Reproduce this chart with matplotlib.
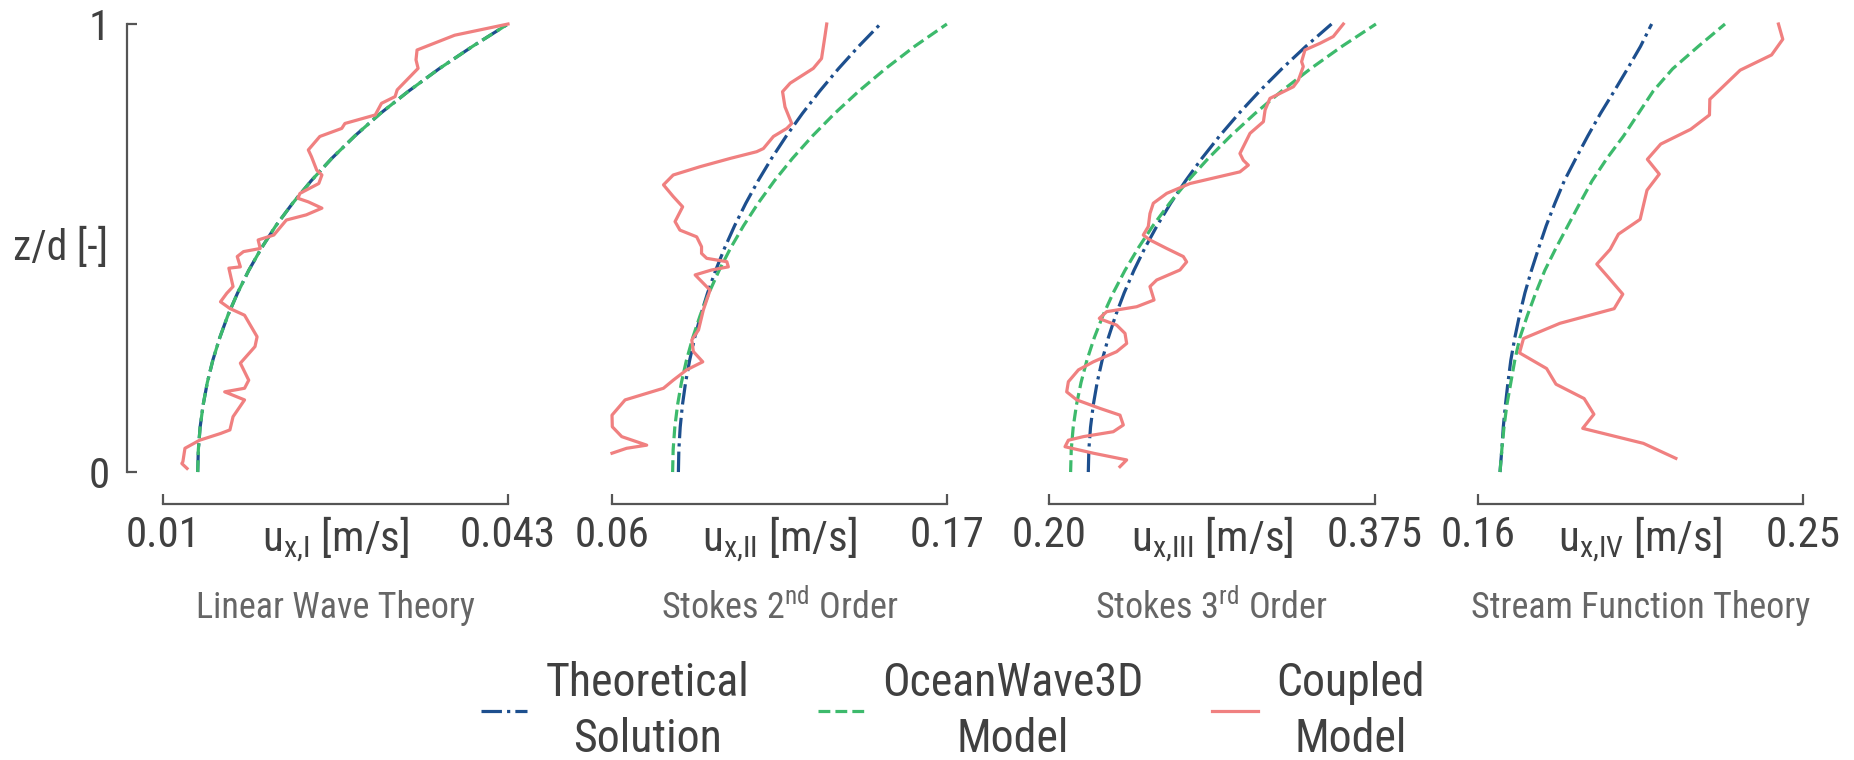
import matplotlib
matplotlib.use('Agg')
import matplotlib.pyplot as plt
from matplotlib import font_manager

# ---------------- fonts ----------------
_names = {f.name for f in font_manager.fontManager.ttflist}
FONT = next((n for n in ['Liberation Sans Narrow', 'Arial Narrow', 'Roboto Condensed',
                         'DejaVu Sans Condensed', 'Liberation Sans'] if n in _names), 'DejaVu Sans')
plt.rcParams['font.family'] = [FONT, 'DejaVu Sans']
plt.rcParams['mathtext.fontset'] = 'custom'
plt.rcParams['mathtext.rm'] = FONT
plt.rcParams['mathtext.default'] = 'regular'

# ---------------- data ----------------
z_grid = [0.00, 0.05, 0.10, 0.15, 0.20, 0.25, 0.30, 0.35, 0.40, 0.45, 0.50,
          0.55, 0.60, 0.65, 0.70, 0.75, 0.80, 0.85, 0.90, 0.95, 1.00]

# Linear wave theory
theory_I = [0.01332, 0.01338, 0.01355, 0.01384, 0.01424, 0.01477, 0.01543, 0.01621, 0.01714, 0.01820, 0.01942,
            0.02080, 0.02240, 0.02417, 0.02614, 0.02834, 0.03077, 0.03348, 0.03640, 0.03960, 0.04300]
ow3d_I = [0.01332, 0.01338, 0.01355, 0.01384, 0.01424, 0.01477, 0.01543, 0.01621, 0.01714, 0.01820, 0.01942,
          0.02080, 0.02240, 0.02417, 0.02614, 0.02834, 0.03077, 0.03348, 0.03640, 0.03960, 0.04300]
z_cpl_I = [1.0, 0.975, 0.942, 0.92, 0.901, 0.853, 0.838, 0.823, 0.797, 0.778, 0.767, 0.749, 0.719, 0.704,
           0.674, 0.663, 0.644, 0.622, 0.611, 0.603, 0.589, 0.574, 0.5625, 0.529, 0.518, 0.499, 0.492, 0.481,
           0.458, 0.455, 0.414, 0.399, 0.380, 0.365, 0.350, 0.302, 0.280, 0.243, 0.205, 0.187, 0.179, 0.161,
           0.1235, 0.094, 0.086, 0.071, 0.053, 0.023, 0.019, 0.008]
cpl_I = [0.0430, 0.0379, 0.0343, 0.0342, 0.0344, 0.0324, 0.0322, 0.0309, 0.0303, 0.0274, 0.0271, 0.0250,
         0.0239, 0.0242, 0.0247, 0.0252, 0.0249, 0.0231, 0.0229, 0.0239, 0.0252, 0.0237, 0.0218, 0.0206,
         0.0191, 0.0193, 0.0177, 0.0171, 0.0174, 0.0163, 0.0167, 0.0161, 0.0155, 0.0164, 0.0178, 0.0190,
         0.0188, 0.0174, 0.0182, 0.0178, 0.0159, 0.0178, 0.0167, 0.0164, 0.0155, 0.0135, 0.0121, 0.0119,
         0.0118, 0.0123]

# Stokes 2nd order
theory_II = [0.0818, 0.08195, 0.08239, 0.08313, 0.08416, 0.08551, 0.08716, 0.08912, 0.09140, 0.09402, 0.09697,
             0.10027, 0.10394, 0.10797, 0.11239, 0.11723, 0.12248, 0.12817, 0.13432, 0.14097, 0.14811]
ow3d_II = [0.0799, 0.08008, 0.08062, 0.08153, 0.08280, 0.08446, 0.08652, 0.08897, 0.09185, 0.09516, 0.09894,
           0.10321, 0.10798, 0.11332, 0.11924, 0.12581, 0.13305, 0.14101, 0.14976, 0.15934, 0.16996]
z_cpl_II = [1.0, 0.972, 0.923, 0.901, 0.868, 0.849, 0.815, 0.778, 0.767, 0.749, 0.722, 0.715, 0.700, 0.6815,
            0.663, 0.641, 0.615, 0.592, 0.559, 0.540, 0.525, 0.503, 0.488, 0.477, 0.4695, 0.458, 0.451, 0.440,
            0.406, 0.362, 0.317, 0.295, 0.269, 0.246, 0.228, 0.205, 0.187, 0.161, 0.127, 0.101, 0.079, 0.060,
            0.053, 0.042]
cpl_II = [0.1305, 0.1299, 0.1288, 0.1261, 0.1185, 0.1160, 0.1168, 0.1190, 0.1174, 0.1130, 0.1097, 0.1075,
          0.0988, 0.0889, 0.0801, 0.0769, 0.0801, 0.0832, 0.0807, 0.0823, 0.0878, 0.0894, 0.0894, 0.0911,
          0.0977, 0.0982, 0.0927, 0.0873, 0.0922, 0.0900, 0.0884, 0.0862, 0.0867, 0.0898, 0.0845, 0.0801,
          0.0769, 0.0643, 0.0600, 0.0601, 0.0632, 0.0714, 0.0648, 0.0600]

# Stokes 3rd order
theory_III = [0.2211, 0.22140, 0.22229, 0.22378, 0.22586, 0.22856, 0.23187, 0.23580, 0.24037, 0.24559, 0.25147,
              0.25804, 0.26531, 0.27331, 0.28204, 0.29155, 0.30186, 0.31299, 0.32498, 0.33785, 0.35164]
ow3d_III = [0.2116, 0.21195, 0.21299, 0.21475, 0.21721, 0.22039, 0.22432, 0.22901, 0.23448, 0.24077, 0.24790,
            0.25583, 0.26472, 0.27458, 0.28548, 0.29743, 0.31051, 0.32477, 0.34032, 0.35721, 0.3755]
z_cpl_III = [1.0, 0.972, 0.957, 0.942, 0.916, 0.905, 0.875, 0.860, 0.834, 0.808, 0.782, 0.756, 0.726, 0.711,
             0.696, 0.685, 0.670, 0.644, 0.622, 0.600, 0.577, 0.548, 0.529, 0.518, 0.499, 0.481, 0.469, 0.451,
             0.4286, 0.414, 0.384, 0.369, 0.358, 0.343, 0.339, 0.328, 0.3095, 0.287, 0.2686, 0.246, 0.228,
             0.2016, 0.179, 0.161, 0.142, 0.127, 0.105, 0.090, 0.079, 0.071, 0.0565, 0.042, 0.027, 0.012]
cpl_III = [0.3580, 0.3526, 0.3455, 0.3374, 0.3356, 0.3365, 0.3339, 0.3312, 0.3186, 0.3160, 0.3151, 0.3079,
           0.3043, 0.3025, 0.3043, 0.3070, 0.3025, 0.2757, 0.2632, 0.2560, 0.2542, 0.2533, 0.2506, 0.2542,
           0.2632, 0.2721, 0.2739, 0.2703, 0.2578, 0.2542, 0.2564, 0.2471, 0.2310, 0.2270, 0.2292, 0.2363,
           0.2408, 0.2417, 0.2363, 0.2238, 0.2158, 0.2104, 0.2095, 0.2149, 0.2274, 0.2381, 0.2399, 0.2345,
           0.2184, 0.2104, 0.2086, 0.2238, 0.2417, 0.2381]

# Stream function theory
theory_IV = [0.1661, 0.1666, 0.1670, 0.1676, 0.1683, 0.1691, 0.1702, 0.1715, 0.1730, 0.1748, 0.1768,
             0.1789, 0.1813, 0.1839, 0.1871, 0.1904, 0.1939, 0.1977, 0.2014, 0.2050, 0.2081]
ow3d_IV = [0.1661, 0.1666, 0.1672, 0.1680, 0.1691, 0.1702, 0.1716, 0.1737, 0.1760, 0.1785, 0.1816,
           0.1849, 0.1882, 0.1916, 0.1957, 0.2003, 0.2044, 0.2085, 0.2139, 0.2210, 0.2284]
z_cpl_IV = [1.0, 0.966, 0.931, 0.897, 0.832, 0.797, 0.765, 0.732, 0.698, 0.665, 0.629, 0.564, 0.531, 0.497,
            0.464, 0.4345, 0.397, 0.3646, 0.332, 0.298, 0.266, 0.231, 0.196, 0.164, 0.129, 0.0975, 0.064, 0.0305]
cpl_IV = [0.2432, 0.2444, 0.2413, 0.2326, 0.2242, 0.2241, 0.2189, 0.2106, 0.2069, 0.2102, 0.2068, 0.2049,
          0.1989, 0.1966, 0.1929, 0.1961, 0.2001, 0.1977, 0.1827, 0.1726, 0.1715, 0.1790, 0.1816, 0.1894,
          0.1921, 0.1890, 0.2058, 0.2148]

x_limits = [(0.01, 0.043), (0.06, 0.17), (0.20, 0.375), (0.16, 0.25)]
x_ticklabels = [('0.01', '0.043'), ('0.06', '0.17'), ('0.20', '0.375'), ('0.16', '0.25')]
x_labels = [r'u$_{x{,}I}$ [m/s]', r'u$_{x{,}II}$ [m/s]', r'u$_{x{,}III}$ [m/s]', r'u$_{x{,}IV}$ [m/s]']
titles = ['Linear Wave Theory', r'Stokes 2$^{nd}$ Order', r'Stokes 3$^{rd}$ Order', 'Stream Function Theory']
legend_labels = ['Theoretical\nSolution', 'OceanWave3D\nModel', 'Coupled\nModel']

theory = [theory_I, theory_II, theory_III, theory_IV]
ow3d = [ow3d_I, ow3d_II, ow3d_III, ow3d_IV]
cpl = [cpl_I, cpl_II, cpl_III, cpl_IV]
z_cpl = [z_cpl_I, z_cpl_II, z_cpl_III, z_cpl_IV]

# ---------------- style ----------------
BLUE = '#1d4f8e'
GREEN = '#3dba6c'
RED = '#f08080'
TXT = '#404040'
SUB = '#666666'
SPINE = '#555555'
LW = 2.3

fig = plt.figure(figsize=(18.54, 7.6), dpi=100)
lefts = [0.08792, 0.33010, 0.56580, 0.79719]
widths = [0.18608, 0.18069, 0.17584, 0.17530]
bottom, height = 0.3789, 0.5895

handles = None
for i in range(4):
    ax = fig.add_axes([lefts[i], bottom, widths[i], height])
    ax.set_facecolor('none')
    l_th, = ax.plot(theory[i], z_grid, color=BLUE, ls='-.', lw=LW, clip_on=False, zorder=2)
    l_ow, = ax.plot(ow3d[i], z_grid, color=GREEN, ls='--', lw=LW, clip_on=False, zorder=3)
    l_cp, = ax.plot(cpl[i], z_cpl[i], color=RED, ls='-', lw=LW, clip_on=False, zorder=4)
    if handles is None:
        handles = [l_th, l_ow, l_cp]

    xmin, xmax = x_limits[i]
    ax.set_xlim(xmin, xmax)
    ax.set_ylim(0, 1)
    for s in ['top', 'right']:
        ax.spines[s].set_visible(False)
    ax.spines['bottom'].set_position(('outward', 23))
    ax.spines['bottom'].set_color(SPINE)
    ax.spines['bottom'].set_linewidth(1.6)
    ax.set_xticks([xmin, xmax])
    ax.set_xticklabels(list(x_ticklabels[i]))
    ax.tick_params(axis='x', direction='in', length=7, width=1.6, color=SPINE,
                   labelsize=31, labelcolor=TXT, pad=8)
    ax.set_xlabel(x_labels[i], fontsize=31, color=TXT, va='center')
    ax.xaxis.set_label_coords(0.5, -0.152)
    ax.text(0.5, -0.3036, titles[i], transform=ax.transAxes, ha='center', va='center',
            fontsize=26, color=SUB)

    if i == 0:
        ax.spines['left'].set_position(('outward', 26))
        ax.spines['left'].set_color(SPINE)
        ax.spines['left'].set_linewidth(1.6)
        ax.set_yticks([0, 1])
        ax.set_yticklabels(['0', '1'])
        ax.tick_params(axis='y', direction='in', length=7, width=1.6, color=SPINE,
                       labelsize=31, labelcolor=TXT, pad=12)
        ax.set_ylabel('z/d [-]', rotation=0, fontsize=30, color=TXT, ha='right', va='center')
        ax.yaxis.set_label_coords(-0.1594, 0.5)
    else:
        ax.spines['left'].set_visible(False)
        ax.set_yticks([])

leg = fig.legend(handles, legend_labels, loc='center', bbox_to_anchor=(0.514, 0.064),
                 ncol=3, frameon=False, fontsize=33, handlelength=1.0, handletextpad=0.4,
                 columnspacing=1.5, labelcolor=TXT)
for t in leg.get_texts():
    t.set_multialignment('center')
    t.set_linespacing(1.35)
for col in leg._legend_handle_box.get_children():
    for item in col.get_children():
        item.align = 'center'

fig.savefig('out.png', dpi=100)
